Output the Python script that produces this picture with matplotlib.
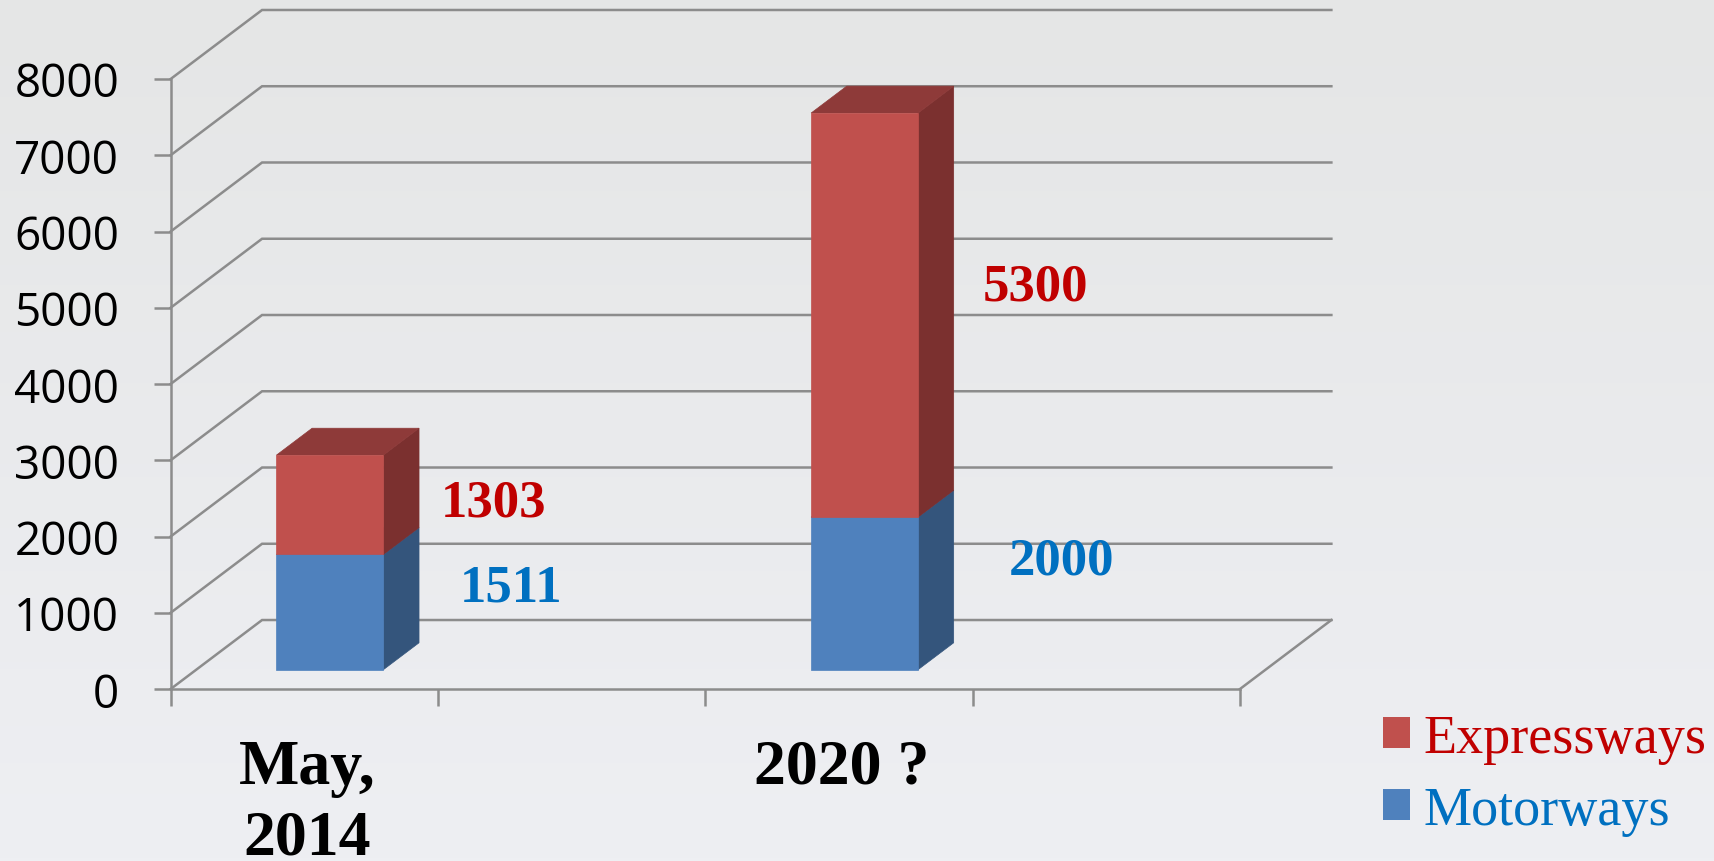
import numpy as np
import matplotlib
matplotlib.use("Agg")
import matplotlib.pyplot as plt
from matplotlib.patches import Polygon, Patch
from matplotlib.colors import LinearSegmentedColormap
from matplotlib.transforms import blended_transform_factory

# dados
categories = ["May,\n2014", "2020 ?"]
series_names = ["Motorways", "Expressways"]
motorways = [1511, 2000]
expressways = [1303, 5300]
y_ticks = [0, 1000, 2000, 3000, 4000, 5000, 6000, 7000, 8000]

# cores: frente, lado, topo
face_colors = {
    "Motorways": ("#4F81BD", "#34557C", "#3E6698"),
    "Expressways": ("#C0504D", "#7B302F", "#8E3A39"),
}
text_colors = {"Motorways": "#0070C0", "Expressways": "#C00000"}
grid_color = "#8C8C8C"

# geometria do "3D"
DX, DY = 0.171, 905      # profundidade da caixa em unidades de dados
Z0, Z1 = 0.28, 0.67      # frente/fundo das barras (fracao da profundidade)
BAR_W = 0.2
positions = np.arange(len(categories)) + 0.25
# deslocamento dos rotulos (x, y) em relacao ao centro do segmento
label_offsets = {
    "Motorways": [(0.386, 571), (0.416, 681)],
    "Expressways": [(0.354, 281), (0.367, 629)],
}

fig = plt.figure(figsize=(17.15, 8.62), dpi=100)

# fundo em degrade
bg = fig.add_axes([0, 0, 1, 1], zorder=-10)
grad = np.linspace(0, 1, 256).reshape(-1, 1)
cmap = LinearSegmentedColormap.from_list("bg", ["#E5E6E6", "#EEEFF3"])
bg.imshow(grad, aspect="auto", cmap=cmap, extent=[0, 1, 0, 1], origin="upper")
bg.axis("off")

ax = fig.add_axes([0.0995, 0.1995, 0.6235, 0.7077])
ax.set_facecolor("none")
ax.set_xlim(0, 2)
ax.set_ylim(0, 8000)

# paredes: linhas de grade com diagonal na parede esquerda
for v in y_ticks:
    ax.plot([0, DX, 2 + DX], [v, v + DY, v + DY], color=grid_color, lw=1.8,
            clip_on=False, zorder=1, solid_joinstyle="miter")
ax.plot([2, 2 + DX], [0, DY], color=grid_color, lw=1.8, clip_on=False, zorder=1)

for side in ["top", "right"]:
    ax.spines[side].set_visible(False)
for side in ["left", "bottom"]:
    ax.spines[side].set_color(grid_color)
    ax.spines[side].set_linewidth(1.8)
    ax.spines[side].set_zorder(1.5)

ax.set_yticks(y_ticks)
ax.set_yticklabels([str(t) for t in y_ticks], family="Open Sans", fontsize=33)
ax.set_xticks(np.arange(0, 2.01, 0.5))
ax.set_xticklabels([])
ax.tick_params(axis="y", length=12, width=1.8, color=grid_color, pad=25)
ax.tick_params(axis="x", length=12.5, width=1.8, color=grid_color)


def draw_box(x, bottom, top, colors):
    xl, xr = x - BAR_W / 2, x + BAR_W / 2
    front, side, topc = colors
    fr = [(xl + Z0 * DX, bottom + Z0 * DY), (xr + Z0 * DX, bottom + Z0 * DY),
          (xr + Z0 * DX, top + Z0 * DY), (xl + Z0 * DX, top + Z0 * DY)]
    sd = [(xr + Z0 * DX, bottom + Z0 * DY), (xr + Z1 * DX, bottom + Z1 * DY),
          (xr + Z1 * DX, top + Z1 * DY), (xr + Z0 * DX, top + Z0 * DY)]
    tp = [(xl + Z0 * DX, top + Z0 * DY), (xr + Z0 * DX, top + Z0 * DY),
          (xr + Z1 * DX, top + Z1 * DY), (xl + Z1 * DX, top + Z1 * DY)]
    for pts, c in [(sd, side), (tp, topc), (fr, front)]:
        ax.add_patch(Polygon(pts, closed=True, facecolor=c, edgecolor=c,
                             lw=0.5, zorder=3, clip_on=False))


for i, x in enumerate(positions):
    bottom = 0
    for name, vals in [("Motorways", motorways), ("Expressways", expressways)]:
        v = vals[i]
        draw_box(x, bottom, bottom + v, face_colors[name])
        ox, oy = label_offsets[name][i]
        ax.text(x + ox, bottom + v / 2 + oy, str(v), family="Liberation Serif",
                fontweight="bold", fontsize=38, color=text_colors[name],
                ha="center", va="center", zorder=5)
        bottom += v

# rotulos das categorias
trans = blended_transform_factory(ax.transData, fig.transFigure)
for x, lab in zip(positions, categories):
    ax.text(x + 0.005, 1 - 740 / 862, lab, transform=trans, family="Liberation Serif",
            fontweight="bold", fontsize=46, ha="center", va="top",
            linespacing=1.28, clip_on=False)

# legenda
handles = [Patch(facecolor=face_colors["Expressways"][0]),
           Patch(facecolor=face_colors["Motorways"][0])]
leg = fig.legend(handles, ["Expressways", "Motorways"], loc="upper left",
                 bbox_to_anchor=(1356 / 1715, 1 - 687 / 862), frameon=False,
                 prop={"family": "Liberation Serif", "size": 39},
                 handlelength=0.5, handleheight=0.5, handletextpad=0.25,
                 labelspacing=0.4, borderpad=0,
                 labelcolor=[text_colors["Expressways"], text_colors["Motorways"]])

fig.savefig("out.png", dpi=100)
